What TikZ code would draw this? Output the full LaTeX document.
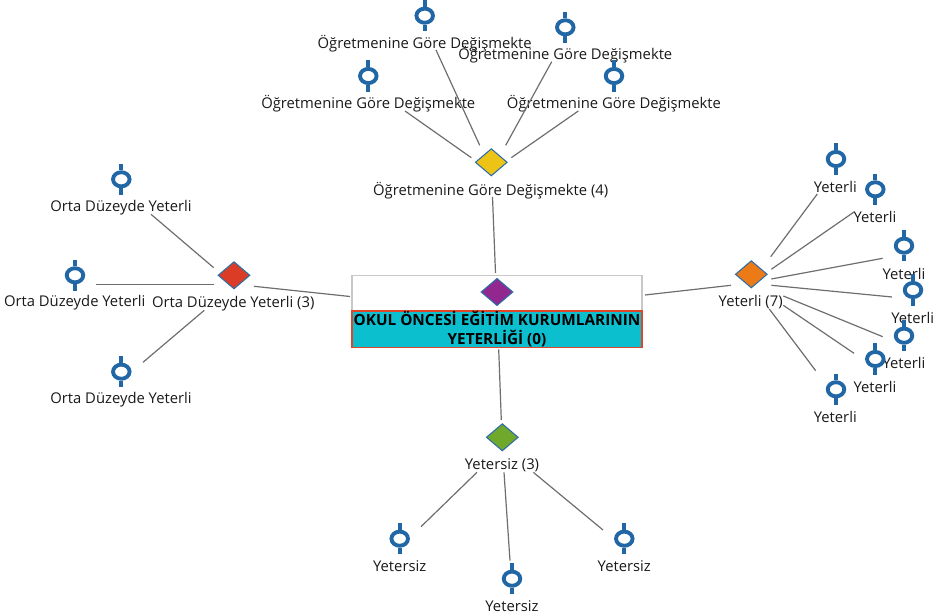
\documentclass[tikz,border=0pt]{standalone}
\usepackage{fontspec}
\setmainfont{Open Sans}
\usetikzlibrary{shapes.geometric}

\definecolor{linkgray}{HTML}{6E6E6E}
\definecolor{boxgray}{HTML}{C8C8C8}
\definecolor{pinblue}{HTML}{2166A5}
\definecolor{edgeblue}{HTML}{2E6DA8}
\definecolor{titleteal}{HTML}{0CBFCF}
\definecolor{titlered}{HTML}{E0452A}
\definecolor{hubpurple}{HTML}{92278F}
\definecolor{hubyellow}{HTML}{EDC416}
\definecolor{hubgreen}{HTML}{70A82C}
\definecolor{hubred}{HTML}{DA3C26}
\definecolor{huborange}{HTML}{EC7A16}

\tikzset{
    link/.style={draw=linkgray, line width=0.9pt},
    hub/.style={diamond, draw=edgeblue, line width=0.8pt, inner sep=0pt,
        minimum width=24pt, minimum height=20.5pt},
    stem/.style={draw=pinblue, line width=3pt},
    leaf/.style={ellipse, draw=pinblue, line width=2.9pt, inner sep=0pt,
        minimum width=12.4pt, minimum height=10.6pt,
        append after command={
            (\tikzlastnode.north) edge[stem] ++(0,-6.6)
            (\tikzlastnode.south) edge[stem] ++(0,6.6)}},
    txt/.style={text=black!90, inner sep=0pt, yshift=-0.7pt,
        font=\fontsize{11.1}{13}\selectfont}
}

\begin{document}
\begin{tikzpicture} [x=0.75pt, y=-0.75pt]
            \useasboundingbox (0,0) rectangle (940,616);

            % Root
            \node (box) [draw=boxgray, line width=0.8pt, minimum width=217.5pt,
                minimum height=26.8pt] at (497,293.2) {};
            \node (root) [hub, fill=hubpurple] at (497,292) {};
            \node (title) [draw=titlered, fill=titleteal, line width=0.9pt,
                minimum width=217.5pt, minimum height=27.5pt, inner sep=0pt,
                align=center, text=black,
                font=\fontsize{11.5}{13.9}\selectfont\bfseries] at (497,329.3)
                {OKUL ÖNCESİ EĞİTİM KURUMLARININ\\YETERLİĞİ (0)};

            % Top group
            \node (hubt) [hub, fill=hubyellow] at (491.3,162.3) {};
            \node (hubttext) [txt] at (490.7,190) {Öğretmenine Göre Değişmekte (4)};
            \node (t1) [leaf] at (424.7,15.7) {};
            \node (t1text) [txt] at (424.7,43) {Öğretmenine Göre Değişmekte};
            \node (t2) [leaf] at (565.3,27.3) {};
            \node (t2text) [txt] at (565.3,54) {Öğretmenine Göre Değişmekte};
            \node (t3) [leaf] at (368.3,76) {};
            \node (t3text) [txt] at (368.3,103) {Öğretmenine Göre Değişmekte};
            \node (t4) [leaf] at (614,76) {};
            \node (t4text) [txt] at (614,103) {Öğretmenine Göre Değişmekte};

            % Left group
            \node (hubl) [hub, fill=hubred] at (234,275.3) {};
            \node (hubltext) [txt] at (233.3,303) {Orta Düzeyde Yeterli (3)};
            \node (l1) [leaf] at (121.3,179.3) {};
            \node (l1text) [txt] at (121,206.7) {Orta Düzeyde Yeterli};
            \node (l2) [leaf] at (75,275.3) {};
            \node (l2text) [txt] at (74.7,302) {Orta Düzeyde Yeterli};
            \node (l3) [leaf] at (121.3,371.7) {};
            \node (l3text) [txt] at (121,398.7) {Orta Düzeyde Yeterli};

            % Right group
            \node (hubr) [hub, fill=huborange] at (751.3,274.3) {};
            \node (hubrtext) [txt] at (750.7,301.3) {Yeterli (7)};
            \node (r1) [leaf] at (836,159) {};
            \node (r1text) [txt] at (835.3,186) {Yeterli};
            \node (r2) [leaf] at (875.3,189.3) {};
            \node (r2text) [txt] at (875,216.3) {Yeterli};
            \node (r3) [leaf] at (904,245.7) {};
            \node (r3text) [txt] at (904,272.7) {Yeterli};
            \node (r4) [leaf] at (913,290) {};
            \node (r4text) [txt] at (912.7,317.3) {Yeterli};
            \node (r5) [leaf] at (904,335.7) {};
            \node (r5text) [txt] at (904,362.3) {Yeterli};
            \node (r6) [leaf] at (875.3,359) {};
            \node (r6text) [txt] at (875,386) {Yeterli};
            \node (r7) [leaf] at (836,389.3) {};
            \node (r7text) [txt] at (835.3,416.3) {Yeterli};

            % Bottom group
            \node (hubb) [hub, fill=hubgreen] at (502.3,437.3) {};
            \node (hubbtext) [txt] at (502,464.7) {Yetersiz (3)};
            \node (b1) [leaf] at (399.7,538.7) {};
            \node (b1text) [txt] at (399.7,565.7) {Yetersiz};
            \node (b2) [leaf] at (512,578.7) {};
            \node (b2text) [txt] at (512,605.7) {Yetersiz};
            \node (b3) [leaf] at (624.3,538.7) {};
            \node (b3text) [txt] at (624.3,565.7) {Yetersiz};

            % Links from the root
            \path [link]
                ([shift={(-1.5,-20.2)}]box.center) edge ([shift={(1.2,34.7)}]hubt.center)
                ([shift={(-147,3.3)}]box.center) edge ([shift={(20,11)}]hubl.center)
                ([shift={(148,1.8)}]box.center) edge ([shift={(-20.3,11)}]hubr.center)
                ([shift={(1.7,20)}]title.center) edge ([shift={(-1,-17.3)}]hubb.center);

            % Links to the leaves
            \path [link]
                ([shift={(-11.6,-17)}]hubt.center) edge ([shift={(11.3,34.3)}]t1.center)
                ([shift={(14.4,-17)}]hubt.center) edge ([shift={(-13.6,34.4)}]t2.center)
                ([shift={(-20,-4.6)}]hubt.center) edge ([shift={(36.7,35)}]t3.center)
                ([shift={(20,-4.6)}]hubt.center) edge ([shift={(-35.7,35)}]t4.center)

                ([shift={(-20.3,-7.6)}]hubl.center) edge ([shift={(29.7,35)}]l1.center)
                ([shift={(-20.3,9)}]hubl.center) edge ([shift={(21.3,9)}]l2.center)
                ([shift={(-29.7,35)}]hubl.center) edge ([shift={(21.7,-9.4)}]l3.center)

                ([shift={(19.4,-17.6)}]hubr.center) edge ([shift={(-18.7,35)}]r1.center)
                ([shift={(20,-5)}]hubr.center) edge ([shift={(-21.3,22.7)}]r2.center)
                ([shift={(20,4.7)}]hubr.center) edge ([shift={(-21.3,12.6)}]r3.center)
                ([shift={(20,11)}]hubr.center) edge ([shift={(-21,7)}]r4.center)
                ([shift={(32,21.7)}]hubr.center) edge ([shift={(-21.3,1)}]r5.center)
                ([shift={(32,31)}]hubr.center) edge ([shift={(-21.3,-5.7)}]r6.center)
                ([shift={(18,34.7)}]hubr.center) edge ([shift={(-20.3,-18.6)}]r7.center)

                ([shift={(-25.3,35)}]hubb.center) edge ([shift={(21.3,-12)}]b1.center)
                ([shift={(1.7,35)}]hubb.center) edge ([shift={(-2,-18)}]b2.center)
                ([shift={(31,35)}]hubb.center) edge ([shift={(-21.3,-8.7)}]b3.center);
\end{tikzpicture}
\end{document}
